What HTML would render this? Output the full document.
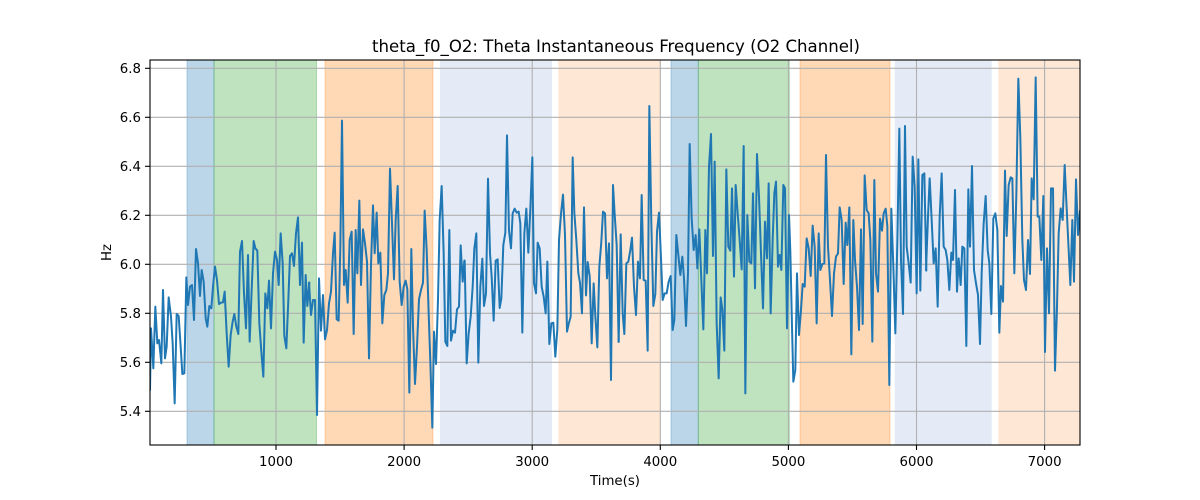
<!DOCTYPE html>
<html><head><meta charset="utf-8"><style>
html,body{margin:0;padding:0;background:#fff;}
svg{display:block;font-family:"DejaVu Sans","Liberation Sans",sans-serif;}
</style></head><body>
<svg width="1200" height="500" viewBox="0 0 1200 500" xmlns="http://www.w3.org/2000/svg">
<defs><clipPath id="ax"><rect x="150" y="60" width="930" height="385"/></clipPath></defs>
<rect width="1200" height="500" fill="#fff"/>
<g clip-path="url(#ax)">
<rect x="187" y="60" width="27" height="385" fill="#1f77b4" fill-opacity="0.3" stroke="#1f77b4" stroke-opacity="0.3"/>
<rect x="214" y="60" width="102.5" height="385" fill="#2ca02c" fill-opacity="0.3" stroke="#2ca02c" stroke-opacity="0.3"/>
<rect x="325" y="60" width="108" height="385" fill="#ff7f0e" fill-opacity="0.3" stroke="#ff7f0e" stroke-opacity="0.3"/>
<rect x="440" y="60" width="112" height="385" fill="#e4ebf6"/>
<rect x="558.3" y="60" width="102.7" height="385" fill="#fee8d5"/>
<rect x="671" y="60" width="27.3" height="385" fill="#1f77b4" fill-opacity="0.3" stroke="#1f77b4" stroke-opacity="0.3"/>
<rect x="698.3" y="60" width="91" height="385" fill="#2ca02c" fill-opacity="0.3" stroke="#2ca02c" stroke-opacity="0.3"/>
<rect x="800" y="60" width="90" height="385" fill="#ff7f0e" fill-opacity="0.3" stroke="#ff7f0e" stroke-opacity="0.3"/>
<rect x="894.7" y="60" width="97" height="385" fill="#e4ebf6"/>
<rect x="998.3" y="60" width="82" height="385" fill="#fee8d5"/>
<g stroke="#b0b0b0" stroke-width="1.1">
<line x1="276" y1="60" x2="276" y2="445"/><line x1="404.1" y1="60" x2="404.1" y2="445"/><line x1="532.2" y1="60" x2="532.2" y2="445"/><line x1="660.3" y1="60" x2="660.3" y2="445"/><line x1="788.4" y1="60" x2="788.4" y2="445"/><line x1="916.5" y1="60" x2="916.5" y2="445"/><line x1="1044.6" y1="60" x2="1044.6" y2="445"/>
<line x1="150" y1="411.3" x2="1080" y2="411.3"/><line x1="150" y1="362.3" x2="1080" y2="362.3"/><line x1="150" y1="313.3" x2="1080" y2="313.3"/><line x1="150" y1="264.3" x2="1080" y2="264.3"/><line x1="150" y1="215.3" x2="1080" y2="215.3"/><line x1="150" y1="166.3" x2="1080" y2="166.3"/><line x1="150" y1="117.3" x2="1080" y2="117.3"/><line x1="150" y1="68.3" x2="1080" y2="68.3"/>
</g>
<g fill="none" stroke="#1f77b4" stroke-width="2" stroke-linejoin="round" stroke-linecap="round">
<polyline vector-effect="non-scaling-stroke" transform="translate(150,60) scale(0.33333)" points="0,990 3,805 10,925 16,740 22,850 27,840 34,910 39,690 45,895 50,860 56,712 63,770 68,850 74,1030 80,762 86,768 92,860 97,942 103,940 109,652 114,735 120,680 126,675 132,780 138,567 144,610 150,708 155,630 161,665 167,775 172,800 178,738 184,745 189,680 195,620 201,660 207,732 213,728 219,727 224,695 230,820 236,920 242,825 248,785 253,762 259,800 265,822 270,575 276,543 282,700 288,805 294,585 299,845 305,690 311,543 316,565 322,572 328,790 334,875 340,950 346,700 352,745 357,662 363,805 369,640 375,575 381,600 386,675 392,520 398,610 403,828 409,865 415,720 420,588 426,580 432,618 438,520 444,472 450,675 456,548 461,848 467,645 472,738 478,668"/>
<polyline vector-effect="non-scaling-stroke" transform="translate(305,60) scale(0.33333)" points="12,668 18,765 24,720 30,720 36,1065 42,655 48,812 54,705 60,838 66,810 72,730 78,695 84,580 89,518 95,778 101,782 106,560 111,182 117,675 122,630 128,728 134,540 140,515 146,822 152,510 157,640 163,422 168,675 174,508 180,550 186,605 192,895 198,615 204,436 209,580 215,458 220,610 226,578 232,790 238,705 244,690 249,640 255,326 261,490 267,658 272,480 278,378 284,665 290,735 296,680 302,662 307,688 313,998 319,567 324,800 330,972 336,860 342,718 348,690 354,668 359,452 365,570 371,760 376,905 382,1103 387,815 393,912 399,720 404,480 410,378 416,580 421,845 427,858 433,510 438,842 444,812 450,818 456,748 462,740 467,556 473,665 478,602"/>
<polyline vector-effect="non-scaling-stroke" transform="translate(460,60) scale(0.33333)" points="14,602 20,910 26,820 32,770 38,680 43,565 49,520 55,908 61,680 67,596 72,738 78,700 84,356 90,580 95,650 101,782 107,602 113,598 119,744 124,715 130,555 136,518 141,226 147,512 153,565 158,460 164,446 170,458 176,455 181,490 187,818 193,520 199,446 205,578 211,446 217,292 222,670 228,700 233,548 239,565 245,680 251,710 257,760 262,605 268,852 274,790 280,788 286,890 292,808 297,540 303,462 309,404 315,525 321,815 326,792 332,770 338,292 343,458 349,540 355,640 360,668 366,760 372,442 378,706 383,606 389,648 395,850 401,670 406,768 412,862 418,620 424,545 429,455 435,460 441,655 447,550 453,960 459,375 464,462 470,555 476,846"/>
<polyline vector-effect="non-scaling-stroke" transform="translate(615,60) scale(0.33333)" points="11,845 17,523 23,760 28,822 34,610 40,605 46,570 51,533 57,680 63,765 69,605 75,655 80,405 86,660 92,662 98,872 103,138 109,490 115,738 121,702 126,515 132,458 138,595 143,720 149,700 155,700 161,665 167,648 173,810 178,780 184,525 190,585 196,645 202,590 207,655 213,798 219,640 224,252 230,475 236,570 242,525 247,625 253,508 259,660 265,808 271,510 276,640 282,320 288,222 294,588 299,305 305,790 311,955 317,712 322,748 328,872 334,328 340,560 346,572 351,385 357,650 362,375 368,460 374,540 380,628 386,258 391,1000 397,465 403,605 409,610 414,400 420,685 426,282 432,410 438,580 444,745 450,485 456,595 461,370 467,760 473,540 478,400"/>
<polyline vector-effect="non-scaling-stroke" transform="translate(770,60) scale(0.33333)" points="13,400 18,365 24,620 29,585 34,630 40,375 45,385 51,805 57,465 61,575 66,800 70,965 76,930 81,640 87,825 93,750 98,672 104,680 110,535 116,565 122,648 128,497 134,560 140,790 146,520 151,630 157,612 163,610 168,285 174,560 180,660 186,768 192,640 198,590 204,580 209,442 215,480 221,672 227,488 232,555 238,442 244,883 250,480 255,600 261,680 267,810 273,508 278,792 284,346 290,450 296,460 301,540 307,845 313,360 318,640 324,695 330,476 336,512 341,460 347,446 352,498 358,975 364,446 370,620 376,820 382,545 388,206 393,600 399,762 405,198 410,560 416,610 422,668 428,290 434,380 440,700 445,298 451,692 457,345 463,340 469,632"/>
<polyline vector-effect="non-scaling-stroke" transform="translate(925,60) scale(0.33333)" points="3,630 9,470 14,355 20,480 26,610 32,565 38,740 44,470 50,340 56,560 62,570 67,600 73,690 79,578 84,600 90,390 96,695 101,595 107,675 112,560 118,565 124,858 130,388 135,560 141,318 147,630 153,670 159,705 165,852 170,640 176,490 182,408 188,570 193,610 199,762 205,475 211,460 217,510 223,818 228,678 234,725 240,332 245,528 251,375 257,352 262,355 268,640 274,405 280,56 286,235 292,540 297,660 303,690 309,540 315,642 320,355 326,418 332,52 338,470 343,470 349,600 355,408 360,876 366,565 372,760 378,385 384,385 390,932 396,740 401,520 407,445 413,480 419,315 425,445 431,570 436,675 442,480 447,665 453,358 459,525 465,452 470,452"/>
</g>
</g>
<rect x="150" y="60" width="930" height="385" fill="none" stroke="#000" stroke-width="1.1"/>
<g stroke="#000" stroke-width="1.1">
<line x1="276" y1="445" x2="276" y2="450"/><line x1="404.1" y1="445" x2="404.1" y2="450"/><line x1="532.2" y1="445" x2="532.2" y2="450"/><line x1="660.3" y1="445" x2="660.3" y2="450"/><line x1="788.4" y1="445" x2="788.4" y2="450"/><line x1="916.5" y1="445" x2="916.5" y2="450"/><line x1="1044.6" y1="445" x2="1044.6" y2="450"/>
<line x1="145" y1="411.3" x2="150" y2="411.3"/><line x1="145" y1="362.3" x2="150" y2="362.3"/><line x1="145" y1="313.3" x2="150" y2="313.3"/><line x1="145" y1="264.3" x2="150" y2="264.3"/><line x1="145" y1="215.3" x2="150" y2="215.3"/><line x1="145" y1="166.3" x2="150" y2="166.3"/><line x1="145" y1="117.3" x2="150" y2="117.3"/><line x1="145" y1="68.3" x2="150" y2="68.3"/>
</g>
<g font-size="13.33" fill="#000" text-anchor="middle">
<text x="276" y="466">1000</text><text x="404.1" y="466">2000</text><text x="532.2" y="466">3000</text><text x="660.3" y="466">4000</text><text x="788.4" y="466">5000</text><text x="916.5" y="466">6000</text><text x="1044.6" y="466">7000</text>
</g>
<g font-size="13.33" fill="#000" text-anchor="end">
<text x="141" y="416">5.4</text><text x="141" y="367">5.6</text><text x="141" y="318">5.8</text><text x="141" y="269">6.0</text><text x="141" y="220">6.2</text><text x="141" y="171">6.4</text><text x="141" y="122">6.6</text><text x="141" y="73">6.8</text>
</g>
<text x="615" y="485" font-size="13.33" text-anchor="middle">Time(s)</text>
<text transform="translate(111,252.5) rotate(-90)" font-size="13.33" text-anchor="middle">Hz</text>
<text x="372" y="52" font-size="16.5" textLength="488" lengthAdjust="spacingAndGlyphs">theta_f0_O2: Theta Instantaneous Frequency (O2 Channel)</text>
</svg>
</body></html>
